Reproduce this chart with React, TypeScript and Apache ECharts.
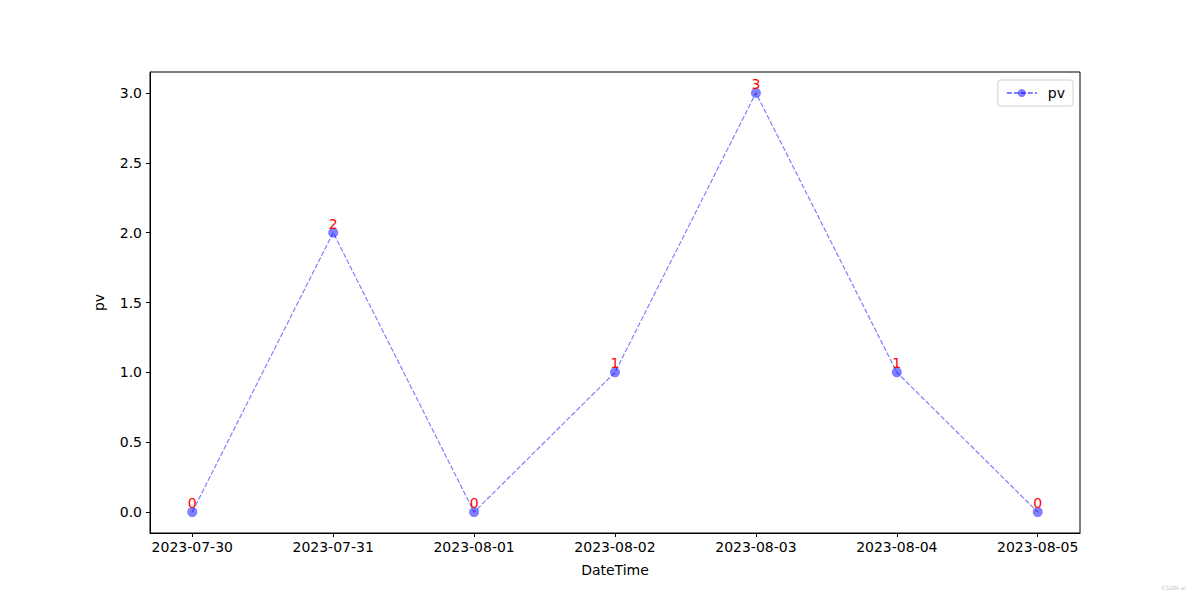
import React, { useEffect, useRef } from "react";
import * as echarts from "echarts";

const dates = ["2023-07-30", "2023-07-31", "2023-08-01", "2023-08-02", "2023-08-03", "2023-08-04", "2023-08-05"];
const pv = [0, 2, 0, 1, 3, 1, 0];
const yTicks = [0, 0.5, 1, 1.5, 2, 2.5, 3];

const FONT = "DejaVu Sans";

export default function App() {
  const ref = useRef<HTMLDivElement>(null);
  useEffect(() => {
    if (!ref.current) return;
    const chart = echarts.init(ref.current, null, { renderer: "svg" });
    const xIdx = dates.map((_, i) => i);
    chart.setOption({
      animation: false,
      textStyle: { fontFamily: FONT },
      grid: { left: 150, right: 120, top: 72, bottom: 67, show: true, borderColor: "#000", borderWidth: 1, containLabel: false },
      legend: {
        right: 127,
        top: 80,
        orient: "vertical",
        data: [{ name: "pv" }],
        itemWidth: 30,
        itemHeight: 10,
        itemGap: 8,
        padding: [6, 8, 6, 8],
        borderColor: "#d0d0d0",
        borderWidth: 1,
        borderRadius: 3,
        textStyle: { fontFamily: FONT, fontSize: 14, color: "#000", padding: [0, 0, 0, 6] },
      },
      xAxis: {
        type: "value",
        min: -0.3,
        max: 6.3,
        name: "DateTime",
        nameLocation: "middle",
        nameGap: 30,
        nameTextStyle: { fontFamily: FONT, fontSize: 14, color: "#000" },
        splitLine: { show: false },
        axisLine: { show: true, onZero: false, lineStyle: { color: "#000", width: 1 } },
        axisTick: { show: true, inside: false, customValues: xIdx, length: 4, lineStyle: { color: "#000" } },
        axisLabel: {
          customValues: xIdx,
          formatter: (v: number) => dates[Math.round(v)] ?? "",
          fontFamily: FONT,
          fontSize: 14,
          color: "#000",
          margin: 7,
        },
      },
      yAxis: {
        type: "value",
        min: -0.15,
        max: 3.15,
        name: "pv",
        nameLocation: "middle",
        nameGap: 44,
        nameTextStyle: { fontFamily: FONT, fontSize: 14, color: "#000" },
        splitLine: { show: false },
        axisLine: { show: true, onZero: false, lineStyle: { color: "#000", width: 1 } },
        axisTick: { show: true, inside: false, customValues: yTicks, length: 4, lineStyle: { color: "#000" } },
        axisLabel: {
          customValues: yTicks,
          formatter: (v: number) => v.toFixed(1),
          fontFamily: FONT,
          fontSize: 14,
          color: "#000",
          margin: 8,
        },
      },
      series: [
        {
          name: "pv",
          type: "line",
          data: pv.map((v, i) => [i, v]),
          symbol: "circle",
          symbolSize: 10,
          itemStyle: { color: "rgba(0,0,255,0.5)" },
          lineStyle: { color: "rgba(0,0,255,0.5)", width: 1.2, type: [5, 2] },
          label: {
            show: true,
            position: "top",
            distance: -3,
            formatter: (p: any) => String(p.value[1]),
            color: "red",
            fontFamily: FONT,
            fontSize: 14,
          },
        },
      ],
      graphic: [
        {
          type: "text",
          right: 14,
          top: 584,
          style: { text: "CSDN-ai", fontSize: 6, fill: "#c8c8c8", fontFamily: FONT },
        },
      ],
    });
    return () => chart.dispose();
  }, []);
  return <div ref={ref} style={{ width: 1200, height: 600, margin: -8 }} />;
}
